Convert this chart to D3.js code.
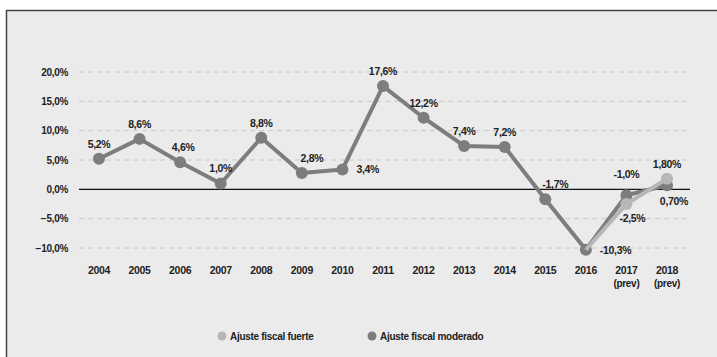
<!DOCTYPE html>
<html>
<head>
<meta charset="utf-8">
<script src="https://cdn.jsdelivr.net/npm/d3@7"></script>
<style>
  body { margin: 0; background: #fff; }
  svg text { font-family: "Liberation Sans Narrow", "Arial Narrow", "Liberation Sans", sans-serif; font-weight: bold; fill: #222; letter-spacing: -0.3px; }
</style>
</head>
<body>
<svg id="chart" width="717" height="357"></svg>
<script>
var years = ['2004', '2005', '2006', '2007', '2008', '2009', '2010', '2011', '2012', '2013', '2014', '2015', '2016', '2017', '2018'];
var yearSub = ['', '', '', '', '', '', '', '', '', '', '', '', '', '(prev)', '(prev)'];
var moderado = [5.2, 8.6, 4.6, 1.0, 8.8, 2.8, 3.4, 17.6, 12.2, 7.4, 7.2, -1.7, -10.3, -1.0, 0.7];
var moderadoLabels = ['5,2%', '8,6%', '4,6%', '1,0%', '8,8%', '2,8%', '3,4%', '17,6%', '12,2%', '7,4%', '7,2%', '-1,7%', '-10,3%', '-1,0%', '0,70%'];
var fuerte = [null, null, null, null, null, null, null, null, null, null, null, null, -10.3, -2.5, 1.8];
var fuerteLabels = ['', '', '', '', '', '', '', '', '', '', '', '', '', '-2,5%', '1,80%'];
var yTicks = [20, 15, 10, 5, 0, -5, -10];

// where each label sits relative to its point
var modPlace = ['u', 'u', 'ur', 'u', 'u', 'ur2', 'r', 'u', 'u', 'u', 'u', 'ur2', 'r', 'u2', 'dr'];
var fuePlace = ['', '', '', '', '', '', '', '', '', '', '', '', '', 'd', 'u'];

var svg = d3.select('#chart');
var colDark = '#7d7d7d', colLight = '#b7b7b7';

// panel
svg.append('rect').attr('x', 6).attr('y', 10).attr('width', 711).attr('height', 347)
    .attr('fill', '#ebebeb');
svg.append('line').attr('x1', 6).attr('x2', 717).attr('y1', 10.5).attr('y2', 10.5)
    .attr('stroke', '#444').attr('stroke-width', 1.5);
svg.append('line').attr('x1', 6.5).attr('x2', 6.5).attr('y1', 10).attr('y2', 357)
    .attr('stroke', '#444').attr('stroke-width', 1.5);

var x = d3.scalePoint().domain(years).range([99, 667]);
var y = d3.scaleLinear().domain([-10, 20]).range([248, 72]);

// grid
svg.append('g').selectAll('line').data(yTicks.filter(function (d) { return d !== 0; }))
    .enter().append('line')
    .attr('x1', 79).attr('x2', 690)
    .attr('y1', function (d) { return y(d); }).attr('y2', function (d) { return y(d); })
    .attr('stroke', '#c8c8c8').attr('stroke-width', 1).attr('stroke-dasharray', '5,4');
svg.append('line').attr('x1', 79).attr('x2', 690).attr('y1', y(0)).attr('y2', y(0))
    .attr('stroke', '#111').attr('stroke-width', 1.3);

// y labels
svg.append('g').selectAll('text').data(yTicks).enter().append('text')
    .attr('x', 68).attr('y', function (d) { return y(d) + 3.5; })
    .attr('text-anchor', 'end').attr('font-size', 10)
    .text(function (d) { return d3.format('.1f')(d).replace('.', ',') + '%'; });

// x labels
svg.append('g').selectAll('text').data(years).enter().append('text')
    .attr('x', function (d) { return x(d); }).attr('y', 274)
    .attr('text-anchor', 'middle').attr('font-size', 10.5)
    .text(function (d) { return d; });
svg.append('g').selectAll('text').data(yearSub).enter().append('text')
    .attr('x', function (d, i) { return x(years[i]); }).attr('y', 287)
    .attr('text-anchor', 'middle').attr('font-size', 10)
    .text(function (d) { return d; });

function drawLine(vals, color) {
    var pts = vals.map(function (v, i) { return { k: years[i], v: v }; })
        .filter(function (d) { return d.v !== null; });
    var line = d3.line().x(function (d) { return x(d.k); }).y(function (d) { return y(d.v); });
    svg.append('path').datum(pts).attr('d', line)
        .attr('fill', 'none').attr('stroke', color).attr('stroke-width', 4)
        .attr('stroke-linejoin', 'round');
    return pts;
}
function drawDots(pts, color) {
    svg.append('g').selectAll('circle').data(pts).enter().append('circle')
        .attr('cx', function (d) { return x(d.k); }).attr('cy', function (d) { return y(d.v); })
        .attr('r', 6).attr('fill', color);
}

var modPts = drawLine(moderado, colDark);
drawDots(modPts, colDark);
var fuePts = drawLine(fuerte, colLight);
// shared starting point stays dark
drawDots(fuePts.filter(function (d) { return moderado[years.indexOf(d.k)] !== d.v; }), colLight);

var offsets = {
    u: [0, -11, 'middle'], u2: [0, -17, 'middle'], ur: [3, -11, 'middle'], ur2: [10, -11, 'middle'],
    r: [14, 4, 'start'], d: [6, 18, 'middle'], dr: [7, 20, 'middle']
};
function labelSet(vals, labels, place) {
    var items = [];
    vals.forEach(function (v, i) {
        if (labels[i] === '') { return; }
        items.push({ x: x(years[i]), y: y(v), t: labels[i], p: offsets[place[i]] });
    });
    svg.append('g').selectAll('text').data(items).enter().append('text')
        .attr('font-size', 10.5)
        .attr('x', function (d) { return d.x + d.p[0]; })
        .attr('y', function (d) { return d.y + d.p[1]; })
        .attr('text-anchor', function (d) { return d.p[2]; })
        .text(function (d) { return d.t; });
}
labelSet(moderado, moderadoLabels, modPlace);
labelSet(fuerte, fuerteLabels, fuePlace);

// legend
var legend = [['Ajuste fiscal fuerte', colLight, 222], ['Ajuste fiscal moderado', colDark, 372]];
legend.forEach(function (l) {
    svg.append('circle').attr('cx', l[2]).attr('cy', 336).attr('r', 4.5).attr('fill', l[1]);
    svg.append('text').attr('x', l[2] + 8).attr('y', 340).attr('font-size', 10).text(l[0]);
});
</script>
</body>
</html>
